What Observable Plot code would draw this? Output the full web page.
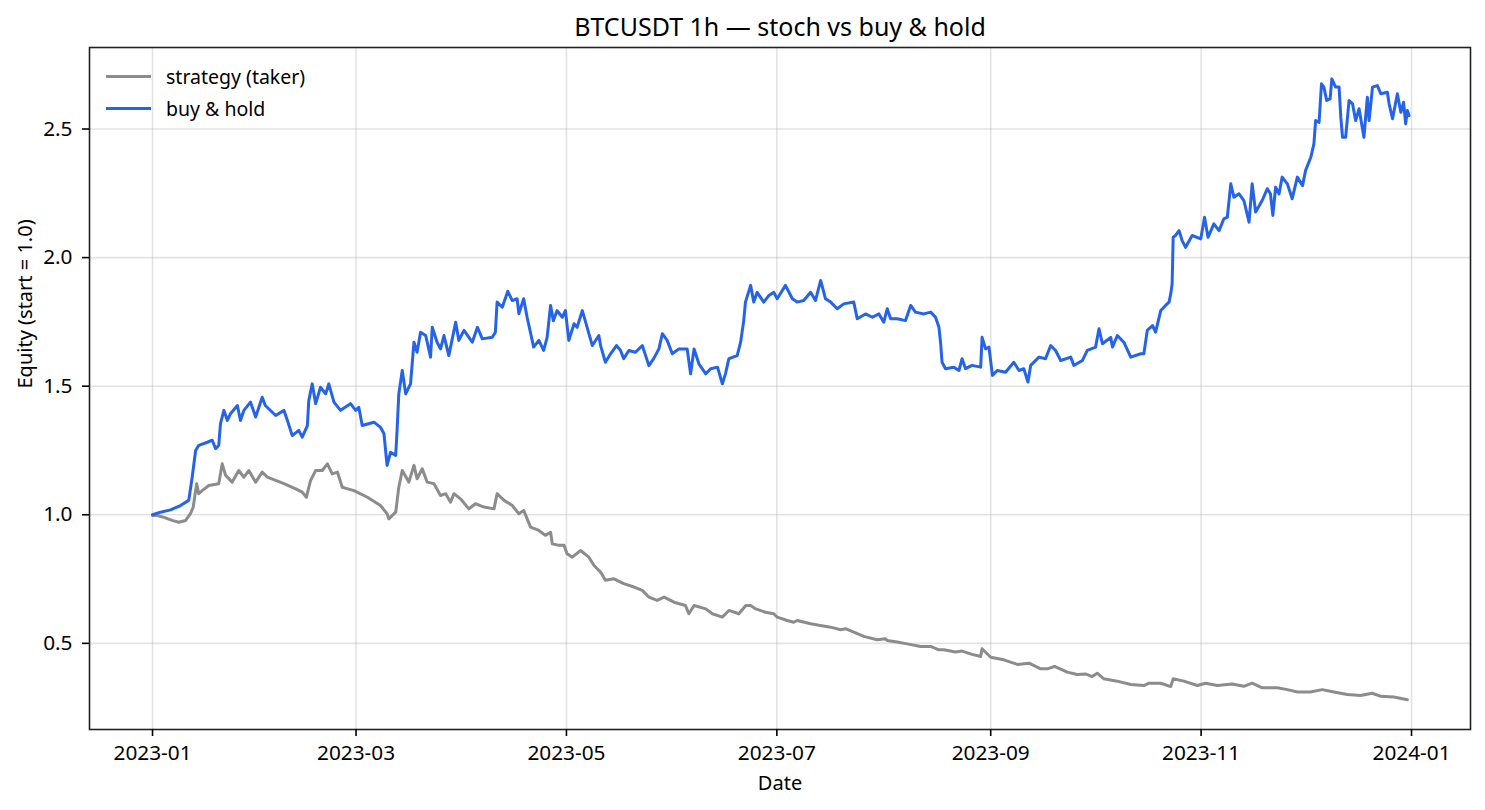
<!DOCTYPE html>
<html>
<head>
<meta charset="utf-8">
<script src="https://cdn.jsdelivr.net/npm/d3@7"></script>
<script src="https://cdn.jsdelivr.net/npm/@observablehq/plot@0.6"></script>
<style>
  body { margin: 0; background: #fff; font-family: "Noto Sans", sans-serif; }
  #wrap { position: relative; width: 1485px; height: 810px; }
  .legend { position: absolute; left: 106px; top: 61px; font-size: 19.5px; color: #000; }
  .legend .row { display: flex; align-items: center; height: 31.6px; }
  .legend .sw { width: 45px; height: 3px; margin-right: 15px; }
</style>
</head>
<body>
<div id="wrap"></div>
<script>
// Days since 2023-01-01 00:00 UTC (hourly data)
const bhDays = [0,2.3,5.2,8.1,10.5,11.5,12.5,13.4,15.9,17.3,18.3,19.2,19.7,20.7,21.7,22.6,24.6,25.5,26.5,28.4,29.9,31.8,32.7,35.7,38.1,39.1,40.5,42.4,43.4,44.9,45.3,46.3,47.3,48.7,50.2,51.1,52.6,54.5,57.4,58.9,59.8,60.8,64.2,66.1,67.1,68.0,69.0,70.5,70.9,71.4,72.4,73.4,74.8,75.8,76.7,77.7,79.2,80.6,81.1,82.5,83.5,84.5,85.9,87.9,88.8,90.3,92.7,94.2,95.6,98.5,99.4,99.9,101.4,103.0,104.3,105.7,106.2,107.6,108.6,110.5,112.0,113.4,114.4,115.4,116.2,117.3,118.8,119.7,120.7,122.2,123.1,124.6,126.0,127.5,129.4,129.9,131.3,132.8,134.5,135.7,136.6,138.1,140.0,142.0,143.9,145.3,146.8,147.8,149.2,150.7,152.6,155.0,156.0,157.0,158.4,160.4,161.8,163.8,165.2,166.1,167.1,169.5,170.5,171.4,171.9,173.4,174.3,175.3,177.2,178.7,180.1,181.1,183.5,185.5,186.9,188.8,190.8,192.2,193.7,195.1,196.6,198.5,200.4,203.3,204.3,206.7,208.7,210.6,212.0,213.0,214.0,215.9,218.3,219.8,221.2,223.6,225.6,227.0,228.0,228.5,228.9,229.9,232.3,233.8,234.7,235.7,237.6,240.1,240.5,241.5,242.5,243.5,244.9,247.3,249.7,251.2,252.6,253.8,254.6,257.0,258.9,260.4,261.8,263.3,266.2,267.1,269.6,271.0,273.4,274.4,275.4,277.8,278.3,279.7,281.6,283.6,286.5,287.4,288.4,289.9,290.8,292.3,293.7,294.7,295.2,295.6,295.9,296.6,297.6,298.5,299.5,301.4,303.9,305.0,306.0,307.7,309.2,310.6,311.6,312.6,313.5,315.0,316.4,317.9,318.8,319.8,321.7,323.2,324.1,324.8,325.6,326.6,327.5,329.0,330.4,331.9,333.4,334.3,335.8,336.7,337.2,338.2,338.9,339.6,340.4,341.4,341.9,343.0,344.0,344.5,345.0,345.9,346.9,347.9,348.8,349.8,351.2,352.2,352.7,353.7,355.1,356.1,358.0,358.5,359.5,360.9,361.9,362.7,363.3,363.8,364.3];
const bhEquity = [1.0,1.01,1.019,1.036,1.056,1.146,1.25,1.27,1.282,1.29,1.257,1.27,1.354,1.406,1.367,1.393,1.425,1.367,1.406,1.438,1.38,1.457,1.425,1.386,1.406,1.367,1.308,1.328,1.302,1.347,1.444,1.509,1.432,1.496,1.47,1.509,1.438,1.406,1.432,1.406,1.418,1.347,1.36,1.34,1.315,1.192,1.243,1.231,1.328,1.47,1.561,1.47,1.509,1.671,1.632,1.71,1.697,1.613,1.729,1.671,1.645,1.697,1.619,1.749,1.678,1.717,1.671,1.729,1.684,1.69,1.71,1.827,1.807,1.869,1.833,1.84,1.782,1.84,1.768,1.652,1.678,1.639,1.69,1.814,1.755,1.794,1.768,1.794,1.678,1.743,1.729,1.794,1.729,1.658,1.697,1.658,1.593,1.626,1.658,1.639,1.607,1.639,1.632,1.658,1.58,1.607,1.645,1.704,1.678,1.626,1.645,1.645,1.548,1.645,1.587,1.548,1.568,1.574,1.509,1.548,1.607,1.619,1.671,1.755,1.827,1.892,1.827,1.865,1.827,1.853,1.865,1.84,1.892,1.84,1.827,1.833,1.865,1.833,1.911,1.84,1.827,1.801,1.82,1.827,1.762,1.781,1.768,1.781,1.749,1.801,1.762,1.762,1.755,1.814,1.788,1.781,1.788,1.768,1.729,1.665,1.593,1.568,1.574,1.561,1.607,1.568,1.581,1.574,1.69,1.645,1.652,1.542,1.561,1.554,1.593,1.561,1.568,1.516,1.581,1.613,1.607,1.658,1.639,1.6,1.613,1.581,1.6,1.639,1.652,1.723,1.665,1.69,1.652,1.697,1.671,1.613,1.626,1.626,1.717,1.736,1.71,1.794,1.814,1.827,1.859,1.898,2.079,2.086,2.105,2.066,2.04,2.086,2.073,2.157,2.079,2.131,2.105,2.151,2.157,2.287,2.235,2.248,2.222,2.138,2.287,2.177,2.222,2.268,2.248,2.164,2.274,2.248,2.313,2.287,2.229,2.313,2.28,2.339,2.39,2.442,2.533,2.526,2.676,2.663,2.611,2.617,2.695,2.663,2.663,2.546,2.468,2.468,2.611,2.598,2.533,2.579,2.468,2.624,2.533,2.663,2.669,2.637,2.643,2.598,2.54,2.637,2.565,2.604,2.52,2.572,2.552];

const stratDays = [0,1.4,3.3,5.7,7.6,9.6,11.0,11.8,12.8,13.4,14.4,16.3,19.2,20.2,21.2,23.1,25.0,26.5,27.9,29.9,31.8,33.3,38.1,41.5,43.4,44.6,45.8,47.3,49.2,50.7,52.1,53.6,55.0,58.4,62.3,66.1,68.0,68.5,70.5,71.4,72.4,74.3,75.8,76.7,78.2,79.6,81.6,83.5,85.0,86.4,87.4,89.3,91.7,93.6,96.1,99.0,99.9,101.9,104.3,106.2,107.6,109.6,112.0,113.9,115.4,115.9,117.8,119.3,120.2,121.7,124.1,126.5,128.0,129.9,131.3,133.8,136.6,139.6,142.0,143.9,146.3,148.3,151.2,154.5,155.5,157.0,160.4,162.3,165.2,167.1,170.0,172.0,173.4,174.9,177.7,180.1,181.1,184.0,185.9,186.9,190.8,193.2,196.6,199.5,200.9,203.3,206.2,210.1,212.5,213.0,215.9,218.8,222.7,225.6,228.0,229.4,232.8,234.7,237.6,240.1,240.5,243.0,246.8,250.7,254.1,257.5,259.4,261.5,265.2,268.1,270.5,272.4,273.9,275.8,279.7,283.6,287.4,288.9,292.3,295.2,295.9,299.0,302.9,305.3,308.7,313.0,316.4,318.8,321.7,326.1,329.0,331.9,335.7,339.1,342.5,346.4,350.2,353.6,356.1,359.9,363.8];
const stratEquity = [0.997,0.997,0.99,0.978,0.971,0.978,1.004,1.03,1.121,1.082,1.094,1.114,1.121,1.198,1.153,1.127,1.172,1.146,1.172,1.127,1.166,1.146,1.121,1.101,1.088,1.068,1.133,1.172,1.172,1.198,1.159,1.166,1.107,1.094,1.068,1.036,1.004,0.984,1.01,1.107,1.172,1.127,1.192,1.14,1.179,1.127,1.121,1.075,1.082,1.049,1.082,1.062,1.023,1.043,1.03,1.023,1.082,1.056,1.036,1.004,1.017,0.952,0.939,0.92,0.932,0.887,0.881,0.881,0.848,0.835,0.861,0.835,0.803,0.777,0.745,0.751,0.732,0.719,0.706,0.68,0.667,0.68,0.66,0.647,0.615,0.647,0.634,0.615,0.602,0.628,0.615,0.647,0.647,0.634,0.621,0.615,0.602,0.589,0.582,0.589,0.576,0.57,0.563,0.553,0.557,0.544,0.527,0.514,0.518,0.511,0.505,0.498,0.488,0.488,0.475,0.475,0.466,0.47,0.457,0.449,0.479,0.446,0.436,0.418,0.423,0.401,0.401,0.41,0.388,0.379,0.381,0.371,0.384,0.362,0.353,0.34,0.336,0.345,0.345,0.332,0.362,0.353,0.336,0.345,0.336,0.342,0.333,0.345,0.327,0.327,0.32,0.311,0.311,0.32,0.311,0.301,0.297,0.306,0.294,0.291,0.281];

const xTickLabels = ["2023-01","2023-03","2023-05","2023-07","2023-09","2023-11","2024-01"];
const yTicks = [0.5, 1.0, 1.5, 2.0, 2.5];
const seriesNames = ["strategy (taker)", "buy & hold"];
const seriesColors = ["#8c8c8c", "#2563eb"];
const titleText = "BTCUSDT 1h — stoch vs buy & hold";
const xLabel = "Date";
const yLabel = "Equity (start = 1.0)";

const t0 = Date.UTC(2023, 0, 1);
const toDate = d => new Date(t0 + d * 864e5);
const strat = stratDays.map((d, i) => ({date: toDate(d), equity: stratEquity[i]}));
const bh = bhDays.map((d, i) => ({date: toDate(d), equity: bhEquity[i]}));
const xTicks = xTickLabels.map(s => new Date(s + "-01T00:00:00Z"));

const grid = {stroke: "#b0b0b0", strokeOpacity: 0.35, strokeWidth: 1.6};

const chart = Plot.plot({
  width: 1485,
  height: 810,
  marginLeft: 89,
  marginRight: 15,
  marginTop: 47,
  marginBottom: 81,
  style: {fontFamily: "'Noto Sans', sans-serif", fontSize: "20px", color: "#000", background: "#fff"},
  x: {type: "utc", domain: [toDate(-18.27), toDate(382.1)]},
  y: {domain: [0.165, 2.817]},
  marks: [
    Plot.gridX(xTicks, {...grid}),
    Plot.gridY(yTicks, {...grid}),
    Plot.line(strat, {x: "date", y: "equity", stroke: seriesColors[0], strokeWidth: 3, strokeLinejoin: "round"}),
    Plot.line(bh, {x: "date", y: "equity", stroke: seriesColors[1], strokeWidth: 3, strokeLinejoin: "round"}),
    Plot.frame({stroke: "#222", strokeWidth: 1.6}),
    Plot.axisX(xTicks, {tickFormat: d3.utcFormat("%Y-%m"), tickSize: 7, tickPadding: 9, strokeWidth: 1.6, label: null, fontSize: 20.8}),
    Plot.axisY(yTicks, {tickFormat: d3.format(".1f"), tickSize: 7, tickPadding: 10, strokeWidth: 1.6, label: null, fontSize: 20.8}),
    Plot.text([titleText], {frameAnchor: "top", lineAnchor: "middle", dy: -20, fontSize: 25}),
    Plot.text([xLabel], {frameAnchor: "bottom", lineAnchor: "middle", dy: 54, fontSize: 20}),
    Plot.text([yLabel], {frameAnchor: "left", lineAnchor: "middle", dx: -64, rotate: -90, fontSize: 20})
  ]
});

const wrap = document.getElementById("wrap");
wrap.appendChild(chart);

const legend = document.createElement("div");
legend.className = "legend";
seriesNames.forEach((name, i) => {
  const row = document.createElement("div");
  row.className = "row";
  const sw = document.createElement("span");
  sw.className = "sw";
  sw.style.background = seriesColors[i];
  const label = document.createElement("span");
  label.textContent = name;
  row.appendChild(sw);
  row.appendChild(label);
  legend.appendChild(row);
});
wrap.appendChild(legend);
</script>
</body>
</html>
